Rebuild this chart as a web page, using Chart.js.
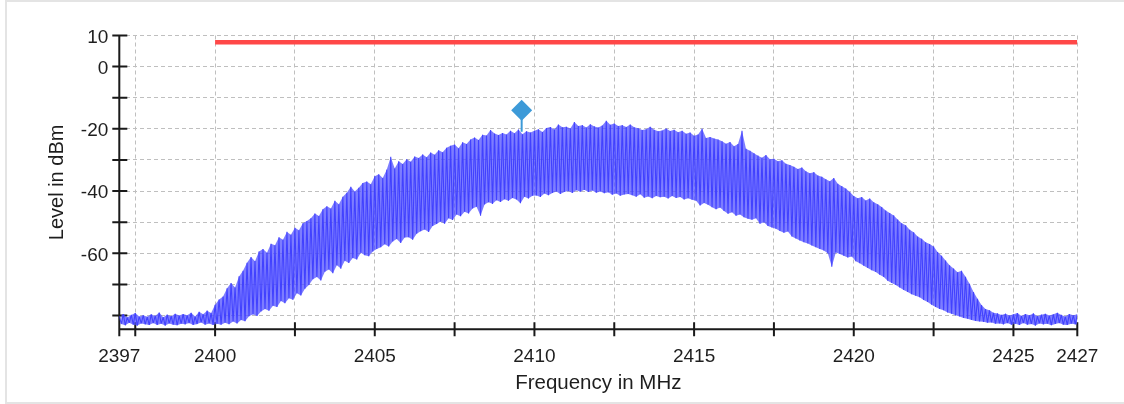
<!DOCTYPE html>
<html>
<head>
<meta charset="utf-8">
<title>Spectrum</title>
<script src="https://cdn.jsdelivr.net/npm/chart.js@4.4.1/dist/chart.umd.min.js"></script>
<style>
  html, body { margin: 0; padding: 0; background: #fff; }
  body { width: 1124px; height: 404px; overflow: hidden; position: relative; }
  .frame { position: absolute; left: 5px; top: 0; width: 1200px; height: 400px; border: 2px solid #e4e4e4; border-right: none; }
  #spectrum { position: absolute; left: 0; top: 0; }
</style>
</head>
<body>
<div class="frame"></div>
<canvas id="spectrum" width="1124" height="404"></canvas>
<script>
// Sweep grid of the trace (MHz)
const START_MHZ = 2397;
const STEP_MHZ = 0.125;

// Upper edge of the trace, one value per sweep step, one row per MHz (dBm)
const peakLevels = [
  -80.2, -79.5, -80.6, -79.8, -79.2, -80.3, -79.9, -80.4,   // 2397
  -79.6, -80.1, -79.0, -80.5, -79.7, -80.2, -79.4, -80.0,   // 2398
  -79.5, -79.9, -79.1, -80.3, -78.8, -79.6, -78.4, -79.2,   // 2399
  -76.5, -74.8, -73.9, -71.2, -69.5, -71.0, -67.4, -65.6,   // 2400
  -63.0, -61.2, -62.5, -59.4, -58.6, -59.8, -56.9, -57.4,   // 2401
  -54.8, -55.6, -53.1, -54.0, -51.8, -52.6, -50.3, -49.6,   // 2402
  -48.7, -47.2, -48.0, -45.8, -44.9, -45.6, -43.1, -44.2,   // 2403
  -41.8, -40.5, -38.6, -40.1, -38.9, -37.4, -36.9, -37.8,   // 2404
  -35.2, -34.6, -35.8, -33.1, -29.0, -32.7, -30.4, -31.3,   // 2405
  -29.8, -30.6, -28.9, -29.4, -28.2, -29.1, -27.6, -28.3,   // 2406
  -26.9, -27.5, -26.1, -25.4, -25.0, -26.2, -24.3, -24.9,   // 2407
  -23.4, -22.8, -23.6, -21.9, -22.1, -20.4, -21.5, -22.0,   // 2408
  -21.3, -21.8, -20.6, -21.4, -20.2, -21.7, -20.8, -21.2,   // 2409
  -20.6, -20.1, -21.0, -19.7, -19.4, -20.2, -18.6, -19.5,   // 2410
  -19.3, -19.9, -17.8, -19.1, -18.8, -19.6, -18.5, -19.2,   // 2411
  -19.6, -18.9, -17.4, -18.7, -18.3, -19.1, -18.8, -19.4,   // 2412
  -18.6, -19.5, -19.8, -20.4, -20.1, -19.3, -20.3, -20.8,   // 2413
  -20.5, -19.9, -20.7, -20.3, -21.1, -20.6, -21.6, -21.2,   // 2414
  -22.2, -21.8, -20.0, -22.9, -22.6, -23.1, -23.4, -24.0,   // 2415
  -24.8, -24.2, -25.6, -24.9, -20.6, -26.4, -27.0, -27.8,   // 2416
  -28.6, -29.3, -28.4, -29.8, -29.6, -30.4, -30.1, -31.2,   // 2417
  -31.6, -32.2, -32.9, -32.4, -33.6, -34.3, -33.9, -35.0,   // 2418
  -35.4, -36.2, -36.8, -35.8, -37.6, -38.4, -39.2, -40.3,   // 2419
  -41.6, -42.3, -41.9, -43.0, -42.4, -43.6, -44.2, -45.1,   // 2420
  -46.2, -47.0, -47.8, -49.1, -50.3, -51.0, -52.4, -53.2,   // 2421
  -54.6, -55.3, -56.4, -57.0, -57.8, -59.6, -60.8, -62.3,   // 2422
  -63.8, -64.9, -66.1, -65.6, -67.5, -69.8, -72.4, -74.6,   // 2423
  -76.6, -77.9, -78.3, -79.1, -79.3, -79.8, -79.4, -80.0,   // 2424
  -79.6, -79.2, -80.1, -79.5, -79.9, -79.3, -80.2, -79.7,   // 2425
  -79.4, -80.0, -79.6, -79.1, -79.8, -80.3, -79.5, -79.9,   // 2426
  -79.6                                                     // 2427
];

// Lower edge of the trace, half a step after each peak (dBm)
const troughLevels = [
  -82.7, -83.1, -82.3, -82.9, -83.2, -82.5, -82.8, -83.0,   // 2397
  -82.4, -83.0, -82.6, -83.2, -82.5, -82.9, -83.1, -82.6,   // 2398
  -82.8, -82.4, -83.0, -82.7, -82.2, -82.9, -82.5, -83.0,   // 2399
  -82.6, -82.9, -82.3, -82.8, -81.9, -82.5, -81.4, -81.8,   // 2400
  -80.2, -79.6, -80.1, -78.7, -77.9, -78.4, -76.8, -77.2,   // 2401
  -75.3, -76.0, -74.4, -74.9, -72.8, -73.5, -71.4, -70.2,   // 2402
  -68.3, -67.6, -68.7, -65.9, -65.2, -66.4, -63.8, -64.9,   // 2403
  -62.4, -63.1, -61.5, -62.0, -59.8, -60.6, -60.9, -59.4,   // 2404
  -58.6, -58.0, -57.1, -57.8, -56.2, -55.4, -56.7, -54.9,   // 2405
  -54.8, -55.6, -53.7, -52.9, -52.3, -53.1, -51.2, -50.6,   // 2406
  -49.8, -50.5, -48.7, -49.3, -47.5, -48.1, -46.6, -47.2,   // 2407
  -45.6, -45.0, -47.9, -44.3, -43.6, -44.1, -42.9, -43.5,   // 2408
  -42.6, -43.1, -42.2, -42.7, -43.9, -41.8, -42.4, -41.5,   // 2409
  -41.4, -41.9, -40.8, -41.3, -40.6, -40.1, -40.9, -40.3,   // 2410
  -40.0, -40.6, -39.7, -40.2, -39.6, -40.3, -39.8, -40.5,   // 2411
  -40.1, -40.7, -40.4, -41.2, -40.8, -41.5, -41.1, -40.9,   // 2412
  -41.3, -41.8, -41.0, -42.1, -41.7, -42.3, -41.6, -42.0,   // 2413
  -41.8, -42.4, -41.6, -42.2, -41.9, -42.7, -42.3, -42.8,   // 2414
  -43.1, -44.6, -43.8, -44.4, -45.2, -45.8, -45.3, -46.4,   // 2415
  -47.3, -46.8, -47.9, -47.5, -48.4, -48.9, -49.2, -48.7,   // 2416
  -50.5, -50.0, -51.2, -51.7, -52.1, -52.8, -53.4, -53.0,   // 2417
  -54.6, -55.2, -55.9, -56.4, -56.8, -57.5, -58.0, -58.6,   // 2418
  -59.1, -60.0, -64.3, -59.7, -60.2, -60.8, -61.3, -61.0,   // 2419
  -62.5, -63.2, -64.0, -64.7, -65.4, -66.0, -66.9, -67.6,   // 2420
  -68.8, -69.5, -70.2, -71.0, -71.8, -72.4, -73.1, -73.6,   // 2421
  -74.1, -75.0, -75.6, -76.5, -77.2, -77.9, -78.3, -79.0,   // 2422
  -79.4, -79.9, -80.3, -80.8, -81.0, -81.4, -81.7, -81.9,   // 2423
  -82.0, -82.3, -82.2, -82.6, -82.5, -82.8, -82.4, -82.9,   // 2424
  -82.6, -83.0, -82.4, -82.9, -82.7, -83.2, -82.5, -82.8,   // 2425
  -82.6, -83.1, -82.7, -82.4, -82.9, -83.0, -82.6, -82.8,   // 2426
  -82.7                                                     // 2427
];

// Limit line and marker
const limitFreqs = [2400, 2427];
const limitLevel = 7.8;
const markerFreq = 2409.6;
const markerLevel = -14.0;
const markerFoot = -20.9;

// Axes
const xTickValues = [2397, 2397.5, 2400, 2402.5, 2405, 2407.5, 2410, 2412.5, 2415, 2417.5, 2420, 2422.5, 2425, 2427];
const xTickLabels = ['2397', '', '2400', '', '2405', '', '2410', '', '2415', '', '2420', '', '2425', '2427'];
const yTickValues = [-80, -70, -60, -50, -40, -30, -20, -10, 0, 10];
const yTickLabels = ['', '', '-60', '', '-40', '', '-20', '', '0', '10'];

const freqs = peakLevels.map((_, i) => START_MHZ + i * STEP_MHZ);
const peaks = peakLevels.map((v, i) => ({ x: freqs[i], y: v }));
const troughs = troughLevels.map((v, i) => ({ x: freqs[i] + STEP_MHZ / 2, y: v }));
const trace = [];
peaks.forEach((p, i) => {
  trace.push(p);
  trace.push(troughs[i]);
});

// black axis lines with ticks crossing them
const axisMarks = {
  id: 'axisMarks',
  beforeDatasetsDraw(chart) {
    const { ctx, chartArea, scales } = chart;
    ctx.save();
    ctx.strokeStyle = '#1a1a1a';
    ctx.lineWidth = 2;
    ctx.beginPath();
    ctx.moveTo(chartArea.left, chartArea.top);
    ctx.lineTo(chartArea.left, chartArea.bottom + 7);
    ctx.moveTo(chartArea.left, chartArea.bottom);
    ctx.lineTo(chartArea.right, chartArea.bottom);
    yTickValues.forEach(v => {
      const y = scales.y.getPixelForValue(v);
      ctx.moveTo(chartArea.left - 7, y);
      ctx.lineTo(chartArea.left + 8, y);
    });
    xTickValues.forEach(v => {
      const x = scales.x.getPixelForValue(v);
      ctx.moveTo(x, chartArea.bottom - 7);
      ctx.lineTo(x, chartArea.bottom + 7);
    });
    ctx.stroke();
    ctx.restore();
  }
};

Chart.defaults.font.family = '"Liberation Sans", Arial, sans-serif';
Chart.defaults.color = '#1e1e1e';

new Chart(document.getElementById('spectrum'), {
  type: 'line',
  data: {
    datasets: [
      {
        label: 'Peaks',
        data: peaks,
        borderColor: 'transparent',
        borderWidth: 0,
        pointRadius: 0,
        fill: '+1',
        backgroundColor: 'rgba(80, 80, 255, 0.74)',
        order: 5
      },
      {
        label: 'Troughs',
        data: troughs,
        borderColor: 'transparent',
        borderWidth: 0,
        pointRadius: 0,
        fill: false,
        order: 4
      },
      {
        label: 'Trace',
        data: trace,
        borderColor: 'rgba(60, 60, 255, 0.9)',
        borderWidth: 1.1,
        borderJoinStyle: 'bevel',
        pointRadius: 0,
        fill: false,
        order: 3
      },
      {
        label: 'Limit',
        data: limitFreqs.map(f => ({ x: f, y: limitLevel })),
        borderColor: '#ff4848',
        borderWidth: 4.5,
        pointRadius: 0,
        fill: false,
        order: 2
      },
      {
        label: 'Marker',
        data: [{ x: markerFreq, y: markerLevel }, { x: markerFreq, y: markerFoot }],
        borderColor: '#3d9ad8',
        borderWidth: 2,
        pointStyle: 'rectRot',
        pointRadius: [10.5, 0],
        pointBackgroundColor: '#3d9ad8',
        pointBorderWidth: 0,
        fill: false,
        order: 1
      }
    ]
  },
  options: {
    responsive: false,
    devicePixelRatio: 1,
    animation: false,
    layout: { padding: { top: 35.5, right: 46.7, left: 0, bottom: 0 } },
    plugins: {
      legend: { display: false },
      tooltip: { enabled: false }
    },
    scales: {
      x: {
        type: 'linear',
        min: 2397,
        max: 2427,
        afterBuildTicks: scale => { scale.ticks = xTickValues.map(v => ({ value: v })); },
        afterFit: scale => { scale.height = 74.7; },
        grid: { color: '#bfbfbf', lineWidth: 1, drawTicks: false },
        border: { display: false, dash: [4, 3] },
        ticks: {
          autoSkip: false,
          maxRotation: 0,
          padding: 16.5,
          font: { size: 19 },
          callback: (value, index) => xTickLabels[index]
        },
        title: {
          display: true,
          text: 'Frequency in MHz',
          font: { size: 20.5 },
          padding: { top: 0, bottom: 8.5 }
        }
      },
      y: {
        min: -84.4,
        max: 10,
        afterBuildTicks: scale => { scale.ticks = yTickValues.map(v => ({ value: v })); },
        afterFit: scale => { scale.width = 119.3; },
        grid: { color: '#bfbfbf', lineWidth: 1, drawTicks: false },
        border: { display: false, dash: [4, 3] },
        ticks: {
          padding: 11,
          labelOffset: 2,
          font: { size: 19 },
          callback: (value, index) => yTickLabels[index]
        },
        title: {
          display: true,
          text: 'Level in dBm',
          font: { size: 20 },
          padding: { top: 45.5, bottom: 0 }
        }
      }
    }
  },
  plugins: [axisMarks]
});
</script>
</body>
</html>
